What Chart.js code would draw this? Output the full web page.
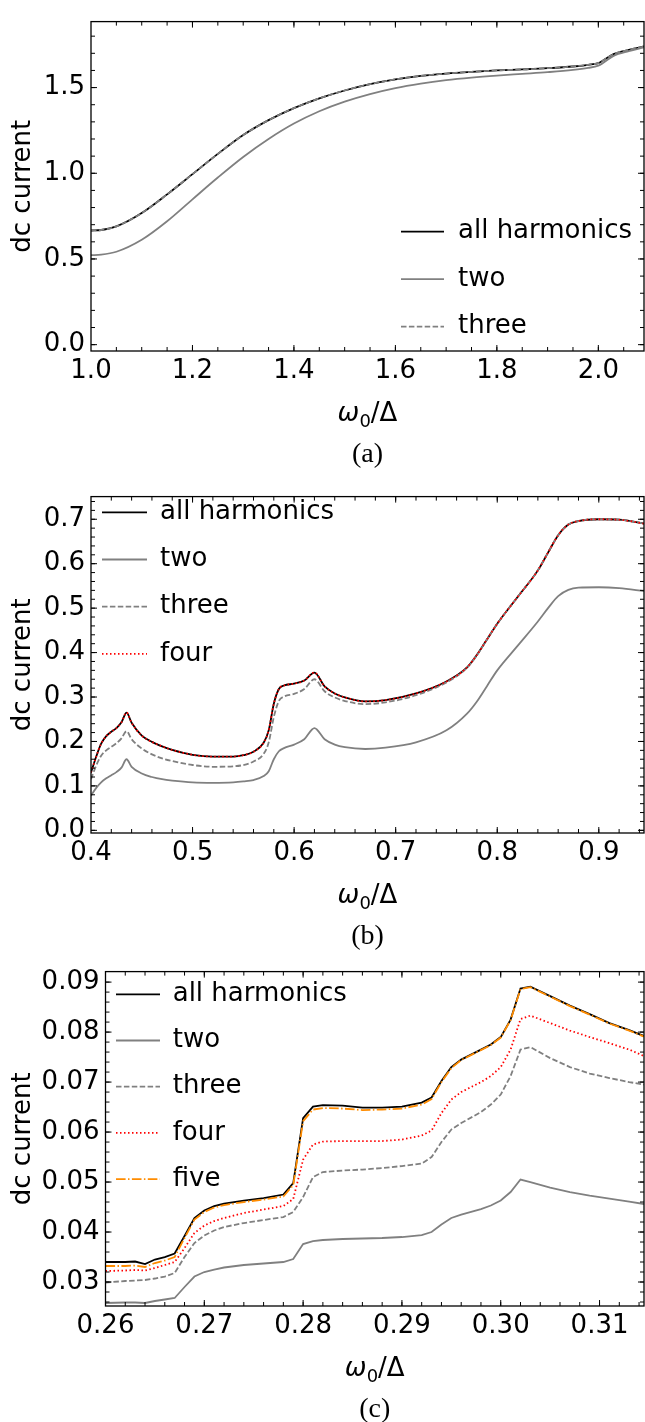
<!DOCTYPE html>
<html lang="en">
<head>
<meta charset="UTF-8">
<title>dc current vs omega0/Delta</title>
<script src="https://cdn.jsdelivr.net/npm/chart.js"></script>
<style>
    body { margin: 0; background: #fff; }
    #wrap { position: relative; width: 645px; height: 1422px; }
    canvas { position: absolute; left: 0; }
</style>
</head>
<body>
<div id="wrap">
    <canvas id="panelA" width="645" height="475" style="top:0"></canvas>
    <canvas id="panelB" width="645" height="475" style="top:475px"></canvas>
    <canvas id="panelC" width="645" height="472" style="top:950px"></canvas>
</div>
<script>
// ---- panel (a) ----
const xA = [1.0, 1.02, 1.05, 1.1, 1.15, 1.2, 1.25, 1.3, 1.35, 1.4, 1.45, 1.5, 1.55, 1.6, 1.65, 1.7, 1.75, 1.8, 1.85, 1.9, 1.95, 1.98, 2.0, 2.01, 2.03, 2.06, 2.09];
const allA = [0.666, 0.669, 0.69, 0.768, 0.877, 0.995, 1.113, 1.223, 1.31, 1.38, 1.437, 1.483, 1.52, 1.548, 1.568, 1.582, 1.592, 1.6, 1.606, 1.613, 1.623, 1.633, 1.643, 1.66, 1.695, 1.72, 1.74];
const twoA = [0.522, 0.525, 0.542, 0.612, 0.72, 0.848, 0.975, 1.095, 1.2, 1.29, 1.362, 1.418, 1.462, 1.497, 1.523, 1.543, 1.558, 1.57, 1.58, 1.59, 1.603, 1.615, 1.628, 1.645, 1.685, 1.713, 1.735];
const threeA = [0.666, 0.669, 0.69, 0.768, 0.877, 0.995, 1.113, 1.223, 1.31, 1.38, 1.437, 1.483, 1.52, 1.548, 1.568, 1.582, 1.592, 1.6, 1.606, 1.613, 1.623, 1.633, 1.643, 1.66, 1.695, 1.72, 1.74];
const xTicksA = [1.0, 1.2, 1.4, 1.6, 1.8, 2.0];
const yTicksA = [0.0, 0.5, 1.0, 1.5];

// ---- panel (b) ----
const xB = [0.4, 0.405, 0.41, 0.415, 0.42, 0.425, 0.43, 0.435, 0.44, 0.45, 0.46, 0.47, 0.48, 0.5, 0.52, 0.54, 0.55, 0.56, 0.57, 0.575, 0.58, 0.585, 0.59, 0.6, 0.61, 0.62, 0.63, 0.64, 0.65, 0.67, 0.69, 0.72, 0.75, 0.77, 0.78, 0.79, 0.8, 0.82, 0.84, 0.85, 0.86, 0.87, 0.88, 0.9, 0.92, 0.945];
const allB = [0.130, 0.165, 0.195, 0.212, 0.222, 0.230, 0.243, 0.265, 0.242, 0.213, 0.199, 0.189, 0.181, 0.170, 0.166, 0.166, 0.169, 0.177, 0.197, 0.225, 0.285, 0.318, 0.326, 0.330, 0.337, 0.355, 0.324, 0.308, 0.299, 0.290, 0.293, 0.308, 0.335, 0.366, 0.395, 0.43, 0.465, 0.525, 0.585, 0.625, 0.664, 0.688, 0.696, 0.700, 0.699, 0.690];
const twoB = [0.078, 0.095, 0.108, 0.117, 0.124, 0.131, 0.141, 0.160, 0.143, 0.128, 0.120, 0.115, 0.112, 0.108, 0.107, 0.108, 0.110, 0.113, 0.122, 0.133, 0.160, 0.178, 0.185, 0.193, 0.205, 0.230, 0.205, 0.193, 0.187, 0.183, 0.186, 0.198, 0.225, 0.262, 0.29, 0.325, 0.36, 0.415, 0.47, 0.50, 0.527, 0.541, 0.546, 0.547, 0.545, 0.538];
const threeB = [0.115, 0.145, 0.168, 0.180, 0.188, 0.196, 0.207, 0.223, 0.205, 0.184, 0.171, 0.162, 0.156, 0.147, 0.143, 0.144, 0.147, 0.155, 0.172, 0.198, 0.255, 0.291, 0.301, 0.307, 0.318, 0.340, 0.313, 0.299, 0.291, 0.284, 0.288, 0.304, 0.333, 0.365, 0.394, 0.43, 0.465, 0.525, 0.585, 0.625, 0.664, 0.688, 0.696, 0.700, 0.699, 0.690];
const fourB = [0.130, 0.165, 0.195, 0.212, 0.222, 0.230, 0.243, 0.265, 0.242, 0.213, 0.199, 0.189, 0.181, 0.170, 0.166, 0.166, 0.169, 0.177, 0.197, 0.225, 0.285, 0.318, 0.326, 0.330, 0.337, 0.355, 0.324, 0.308, 0.299, 0.290, 0.293, 0.308, 0.335, 0.366, 0.395, 0.43, 0.465, 0.525, 0.585, 0.625, 0.664, 0.688, 0.696, 0.700, 0.699, 0.690];
const xTicksB = [0.4, 0.5, 0.6, 0.7, 0.8, 0.9];
const yTicksB = [0.0, 0.1, 0.2, 0.3, 0.4, 0.5, 0.6, 0.7];

// ---- panel (c) ----
const xC = [0.26, 0.262, 0.263, 0.264, 0.265, 0.266, 0.267, 0.268, 0.269, 0.27, 0.271, 0.272, 0.274, 0.276, 0.278, 0.279, 0.28, 0.281, 0.282, 0.284, 0.286, 0.288, 0.29, 0.292, 0.293, 0.294, 0.295, 0.296, 0.298, 0.299, 0.3, 0.301, 0.302, 0.303, 0.305, 0.307, 0.309, 0.311, 0.313, 0.3145];
const allC = [0.0340, 0.0340, 0.0341, 0.0336, 0.0345, 0.0350, 0.0357, 0.0392, 0.0428, 0.0443, 0.0452, 0.0457, 0.0463, 0.0468, 0.0475, 0.0498, 0.0628, 0.0651, 0.0654, 0.0653, 0.0649, 0.0649, 0.0651, 0.0659, 0.0669, 0.0702, 0.0730, 0.0745, 0.0765, 0.0775, 0.0790, 0.0825, 0.0887, 0.0891, 0.0872, 0.0853, 0.0836, 0.0818, 0.0804, 0.0792];
const twoC = [0.0258, 0.0259, 0.0259, 0.0258, 0.0262, 0.0265, 0.0268, 0.0290, 0.0311, 0.0320, 0.0325, 0.0329, 0.0334, 0.0337, 0.0340, 0.0346, 0.0376, 0.0382, 0.0384, 0.0386, 0.0387, 0.0388, 0.0390, 0.0394, 0.0400, 0.0415, 0.0428, 0.0435, 0.0446, 0.0453, 0.0463, 0.0480, 0.0505, 0.0500, 0.0489, 0.0480, 0.0473, 0.0467, 0.0461, 0.0456];
const threeC = [0.0299, 0.0302, 0.0303, 0.0304, 0.0307, 0.0311, 0.0318, 0.0350, 0.0378, 0.0393, 0.0403, 0.0410, 0.0418, 0.0424, 0.0430, 0.0440, 0.0470, 0.0510, 0.0520, 0.0523, 0.0525, 0.0528, 0.0532, 0.0537, 0.0550, 0.0580, 0.0605, 0.0618, 0.0640, 0.0655, 0.0675, 0.0712, 0.0765, 0.0770, 0.0748, 0.0730, 0.0717, 0.0708, 0.0700, 0.0695];
const fourC = [0.0322, 0.0323, 0.0324, 0.0323, 0.0328, 0.0334, 0.0340, 0.0368, 0.0398, 0.0413, 0.0422, 0.0428, 0.0438, 0.0445, 0.0452, 0.0466, 0.0545, 0.0575, 0.0581, 0.0582, 0.0582, 0.0582, 0.0585, 0.0593, 0.0603, 0.0638, 0.0665, 0.0680, 0.0700, 0.0712, 0.0730, 0.0765, 0.0826, 0.0833, 0.0818, 0.0803, 0.0790, 0.0778, 0.0765, 0.0752];
const fiveC = [0.0332, 0.0332, 0.0333, 0.0330, 0.0338, 0.0343, 0.0350, 0.0388, 0.0425, 0.0440, 0.0449, 0.0454, 0.0460, 0.0465, 0.0471, 0.0494, 0.0622, 0.0645, 0.0648, 0.0647, 0.0644, 0.0645, 0.0647, 0.0655, 0.0666, 0.0700, 0.0728, 0.0744, 0.0764, 0.0774, 0.0789, 0.0824, 0.0886, 0.0890, 0.0871, 0.0852, 0.0835, 0.0817, 0.0803, 0.0791];
const xTicksC = [0.26, 0.27, 0.28, 0.29, 0.30, 0.31];
const yTicksC = [0.03, 0.04, 0.05, 0.06, 0.07, 0.08, 0.09];

// line styles (matplotlib-ish)
const STYLE = {
    'all harmonics': { color: '#000000', dash: [] },
    'two':   { color: '#808080', dash: [] },
    'three': { color: '#808080', dash: [5.5, 2.4] },
    'four':  { color: '#ff0000', dash: [1.5, 2.5] },
    'five':  { color: '#ff8c00', dash: [9.6, 2.4, 1.5, 2.4] }
};
const FONT = 'DejaVu Sans';

// frame, inward ticks, legend, x label and caption
const decor = {
    id: 'decor',
    afterDraw(chart, args, o) {
        const { ctx, chartArea: a, scales: { x, y } } = chart;
        ctx.save();
        ctx.strokeStyle = '#000';
        ctx.lineWidth = 1.3;
        ctx.strokeRect(a.left, a.top, a.right - a.left, a.bottom - a.top);

        ctx.lineWidth = 1;
        ctx.beginPath();
        const marks = (scale, vals, len) => {
            vals.forEach(v => {
                const p = scale.getPixelForValue(v);
                if (scale.isHorizontal()) {
                    if (p < a.left + 1 || p > a.right - 1) return;
                    ctx.moveTo(p, a.bottom); ctx.lineTo(p, a.bottom - len);
                    ctx.moveTo(p, a.top); ctx.lineTo(p, a.top + len);
                } else {
                    if (p < a.top + 1 || p > a.bottom - 1) return;
                    ctx.moveTo(a.left, p); ctx.lineTo(a.left + len, p);
                    ctx.moveTo(a.right, p); ctx.lineTo(a.right - len, p);
                }
            });
        };
        const minor = (scale, step) => {
            const out = [];
            for (let k = Math.ceil(scale.min / step - 1e-6); k * step <= scale.max + 1e-9; k++) out.push(k * step);
            return out;
        };
        marks(x, o.xTicks, 6);
        marks(y, o.yTicks, 6);
        marks(x, minor(x, o.xMinor), 4);
        marks(y, minor(y, o.yMinor), 4);
        ctx.stroke();

        // legend
        ctx.font = '26px "' + FONT + '"';
        ctx.textBaseline = 'middle';
        ctx.textAlign = 'left';
        chart.data.datasets.forEach((ds, i) => {
            const ly = o.legend.y0 + i * o.legend.dy;
            ctx.beginPath();
            ctx.strokeStyle = ds.borderColor;
            ctx.lineWidth = ds.borderWidth;
            ctx.setLineDash(ds.borderDash);
            ctx.moveTo(o.legend.x0, ly);
            ctx.lineTo(o.legend.x1, ly);
            ctx.stroke();
            ctx.setLineDash([]);
            ctx.fillStyle = '#000';
            ctx.fillText(ds.label, o.legend.tx, ly);
        });

        // x axis label: omega_0 / Delta
        const cx = (a.left + a.right) / 2;
        const ty = a.bottom + 61;
        const pw = '26px "' + FONT + '"';
        ctx.font = 'italic ' + pw;
        const w1 = ctx.measureText('ω').width;
        ctx.font = '18px "' + FONT + '"';
        const w2 = ctx.measureText('0').width;
        ctx.font = pw;
        const w3 = ctx.measureText('/Δ').width;
        let sx = cx - (w1 + w2 + w3) / 2;
        ctx.textBaseline = 'alphabetic';
        const base = ty + 9;
        ctx.font = 'italic ' + pw; ctx.fillText('ω', sx, base); sx += w1;
        ctx.font = '18px "' + FONT + '"'; ctx.fillText('0', sx, base + 6); sx += w2;
        ctx.font = pw; ctx.fillText('/Δ', sx, base);

        // caption
        ctx.font = '28px "Liberation Serif"';
        ctx.textAlign = 'center';
        ctx.textBaseline = 'middle';
        ctx.fillText(o.caption, cx, a.bottom + 104);
        ctx.restore();
    }
};

function panel(id, p) {
    const n = p.series.length;
    return new Chart(document.getElementById(id), {
        type: 'line',
        data: {
            datasets: p.series.map((s, i) => ({
                label: s.label,
                data: p.xs.map((xv, k) => ({ x: xv, y: s.values[k] })),
                borderColor: STYLE[s.label].color,
                borderDash: STYLE[s.label].dash,
                borderWidth: 1.8,
                pointRadius: 0,
                fill: false,
                tension: p.smooth ? 0.4 : 0,
                cubicInterpolationMode: p.smooth ? 'monotone' : 'default',
                order: n - i
            }))
        },
        options: {
            responsive: false,
            animation: false,
            devicePixelRatio: 1,
            layout: { padding: { top: p.padTop, right: 1, left: 0, bottom: 0 } },
            plugins: {
                legend: { display: false },
                tooltip: { enabled: false },
                decor: { xTicks: p.xTicks, yTicks: p.yTicks, xMinor: p.xMinor, yMinor: p.yMinor, legend: p.legend, caption: p.caption }
            },
            scales: {
                x: {
                    type: 'linear', min: p.xRange[0], max: p.xRange[1],
                    grid: { display: false, drawTicks: false },
                    border: { display: false },
                    afterBuildTicks: sc => { sc.ticks = p.xTicks.map(v => ({ value: v })); },
                    afterFit: sc => { sc.height = p.xAxisH; },
                    ticks: {
                        autoSkip: false, maxRotation: 0, padding: 5, color: '#000',
                        font: { family: FONT, size: 26 },
                        callback: v => v.toFixed(p.xDec)
                    }
                },
                y: {
                    type: 'linear', min: p.yRange[0], max: p.yRange[1],
                    grid: { display: false, drawTicks: false },
                    border: { display: false },
                    afterBuildTicks: sc => { sc.ticks = p.yTicks.map(v => ({ value: v })); },
                    afterFit: sc => { sc.width = p.yAxisW; },
                    ticks: {
                        autoSkip: false, padding: 6, color: '#000',
                        font: { family: FONT, size: 26 },
                        callback: v => v.toFixed(p.yDec)
                    },
                    title: {
                        display: true, text: 'dc current', color: '#000',
                        font: { family: FONT, size: 26 },
                        padding: { top: 8, bottom: 0 }
                    }
                }
            }
        },
        plugins: [decor]
    });
}

panel('panelA', {
    xs: xA,
    series: [{ label: 'all harmonics', values: allA }, { label: 'two', values: twoA }, { label: 'three', values: threeA }],
    xRange: [1.0, 2.09], yRange: [-0.037, 1.885],
    xTicks: xTicksA, yTicks: yTicksA, xMinor: 0.05, yMinor: 0.1, xDec: 1, yDec: 1,
    padTop: 6, xAxisH: 124, yAxisW: 91, smooth: true,
    legend: { x0: 401, x1: 444, tx: 458, y0: 231.7, dy: 47.5 },
    caption: '(a)'
});

panel('panelB', {
    xs: xB,
    series: [{ label: 'all harmonics', values: allB }, { label: 'two', values: twoB }, { label: 'three', values: threeB }, { label: 'four', values: fourB }],
    xRange: [0.4, 0.9445], yRange: [-0.006, 0.751],
    xTicks: xTicksB, yTicks: yTicksB, xMinor: 0.02, yMinor: 0.02, xDec: 1, yDec: 1,
    padTop: 14, xAxisH: 117, yAxisW: 91, smooth: true,
    legend: { x0: 102, x1: 147, tx: 160, y0: 37.3, dy: 47.2 },
    caption: '(b)'
});

panel('panelC', {
    xs: xC,
    series: [{ label: 'all harmonics', values: allC }, { label: 'two', values: twoC }, { label: 'three', values: threeC }, { label: 'four', values: fourC }, { label: 'five', values: fiveC }],
    xRange: [0.26, 0.3145], yRange: [0.0252, 0.0921],
    xTicks: xTicksC, yTicks: yTicksC, xMinor: 0.002, yMinor: 0.002, xDec: 2, yDec: 2,
    padTop: 20, xAxisH: 116, yAxisW: 105.5, smooth: false,
    legend: { x0: 116, x1: 160, tx: 172.7, y0: 44.3, dy: 46.2 },
    caption: '(c)'
});
</script>
</body>
</html>
